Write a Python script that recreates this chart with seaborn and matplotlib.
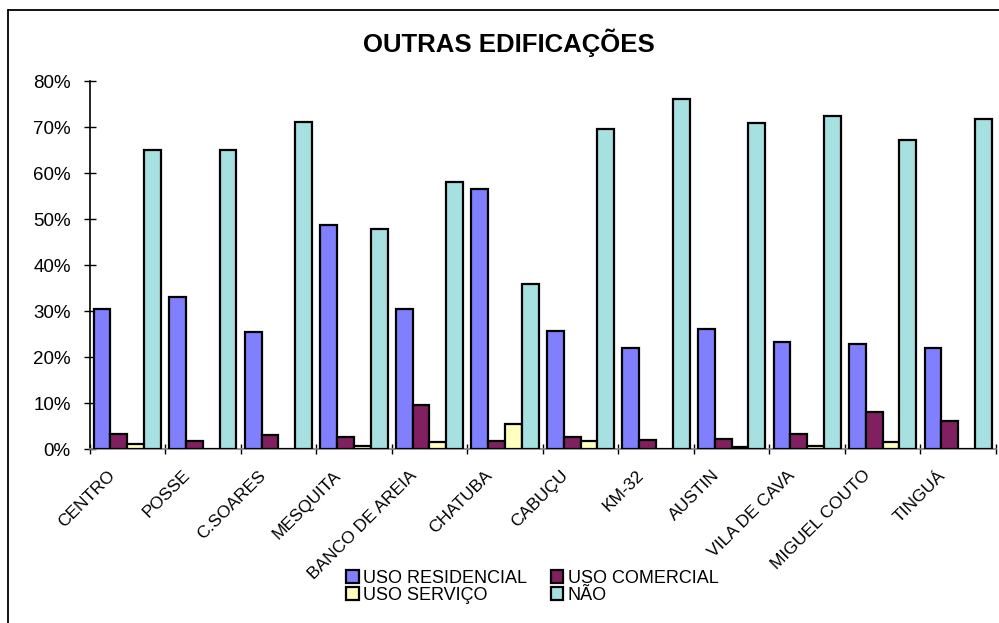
import matplotlib
matplotlib.use("Agg")
import matplotlib.pyplot as plt
from matplotlib.patches import Patch
from matplotlib.lines import Line2D
from matplotlib.transforms import ScaledTranslation
from matplotlib.ticker import FixedLocator, FuncFormatter
import seaborn as sns
import pandas as pd

# Bairros and the share (%) of each type of building use
bairros = ["CENTRO", "POSSE", "C.SOARES", "MESQUITA", "BANCO DE AREIA", "CHATUBA",
           "CABUÇU", "KM-32", "AUSTIN", "VILA DE CAVA", "MIGUEL COUTO", "TINGUÁ"]
series = ["USO RESIDENCIAL", "USO COMERCIAL", "USO SERVIÇO", "NÃO"]
uso_residencial = [30.4, 33.1, 25.5, 48.7, 30.5, 56.6, 25.7, 21.9, 26.1, 23.2, 22.9, 21.9]
uso_comercial = [3.3, 1.9, 3.2, 2.7, 9.6, 1.8, 2.7, 2.0, 2.2, 3.3, 8.2, 6.2]
uso_servico = [1.2, 0.0, 0.0, 0.7, 1.5, 5.6, 1.8, 0.0, 0.6, 0.8, 1.5, 0.0]
nao = [65.0, 65.0, 71.2, 47.8, 58.0, 35.8, 69.5, 76.0, 70.9, 72.4, 67.2, 71.8]
y_ticks = [0, 10, 20, 30, 40, 50, 60, 70, 80]

colors = ["#8080FF", "#802060", "#FFFFC0", "#A6E0E0"]

rows = []
for name, vals in zip(series, [uso_residencial, uso_comercial, uso_servico, nao]):
    for b, v in zip(bairros, vals):
        rows.append({"bairro": b, "uso": name, "valor": v})
df = pd.DataFrame(rows)

sns.set_style("white")
plt.rcParams["font.family"] = ["Liberation Sans", "DejaVu Sans"]
plt.rcParams["text.color"] = "black"

fig = plt.figure(figsize=(9.99, 6.23), dpi=100)
ax = fig.add_axes([89.5 / 999, 1 - 449.3 / 623, (996 - 89.5) / 999, (449.3 - 81) / 623])

sns.barplot(data=df, x="bairro", y="valor", hue="uso", order=bairros, hue_order=series,
            palette=colors, saturation=1, width=0.89, gap=0, edgecolor="black",
            linewidth=1.6, errorbar=None, legend=False, ax=ax, zorder=3)

ax.set_xlim(-0.5, len(bairros) - 0.5)
ax.set_ylim(0, 80)
ax.set_xlabel("")
ax.set_ylabel("")
ax.set_facecolor("white")

# y axis: percent ticks crossing the axis line
ax.set_yticks(y_ticks)
ax.yaxis.set_major_formatter(FuncFormatter(lambda v, p: f"{v:.0f}%"))
ax.tick_params(axis="y", direction="inout", length=9, width=1, color="black",
               labelsize=13.5, pad=9, left=True, labelcolor="black")

# x axis: ticks between groups, rotated labels under group centres
ax.xaxis.set_minor_locator(FixedLocator([i - 0.5 for i in range(len(bairros) + 1)]))
ax.tick_params(axis="x", which="minor", direction="inout", length=7, width=1,
               color="black", bottom=True)
ax.tick_params(axis="x", which="major", length=0, pad=17, labelsize=12.5,
               labelcolor="black")
for lbl in ax.get_xticklabels():
    lbl.set_rotation(45)
    lbl.set_ha("right")
    lbl.set_va("center")
    lbl.set_rotation_mode("anchor")
    lbl.set_transform(lbl.get_transform() + ScaledTranslation(-15 / 100, 0, fig.dpi_scale_trans))

for s in ["top", "right"]:
    ax.spines[s].set_visible(False)
ax.spines["left"].set_color("black")
ax.spines["left"].set_linewidth(1.2)
ax.spines["bottom"].set_color("#808080")
ax.spines["bottom"].set_linewidth(1.2)

fig.suptitle("OUTRAS EDIFICAÇÕES", x=509 / 999, y=1 - 43 / 623, va="center",
             fontsize=18.5, fontweight="bold", color="black")

handles = [Patch(facecolor=c, edgecolor="black", linewidth=1.6) for c in colors]
# order so the two legend columns read residencial/serviço and comercial/não
order = [0, 2, 1, 3]
fig.legend([handles[i] for i in order], [series[i] for i in order], ncol=2,
           loc="upper left", bbox_to_anchor=(346 / 999, 1 - 570 / 623),
           frameon=False, fontsize=13, handlelength=0.7, handleheight=0.7,
           handletextpad=0.25, columnspacing=1.3, labelspacing=0.0, borderpad=0,
           borderaxespad=0)

# outer chart frame (left and top edges visible)
fig.add_artist(Line2D([8 / 999, 8 / 999], [0, 1 - 10 / 623], transform=fig.transFigure,
                      color="black", linewidth=1.3))
fig.add_artist(Line2D([8 / 999, 1.0], [1 - 10 / 623, 1 - 10 / 623], transform=fig.transFigure,
                      color="black", linewidth=1.3))

fig.savefig("out.png", dpi=100, facecolor="white")
